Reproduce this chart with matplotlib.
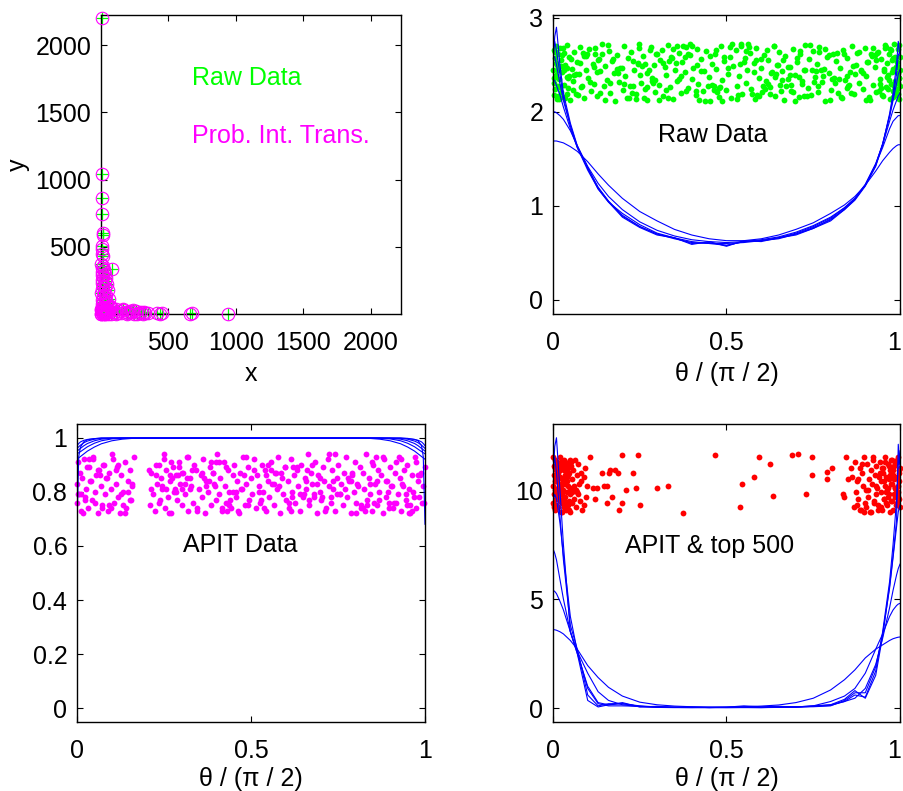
import matplotlib
matplotlib.use('Agg')
import matplotlib.pyplot as plt
import matplotlib.transforms as mtrans
import numpy as np

plt.rcParams['font.family'] = ['Liberation Sans', 'DejaVu Sans']
plt.rcParams['font.size'] = 18

# ---------------- data ----------------
# top-left: raw data (x, y)
tl_x = [6, 10, 8, 9, 12, 18, 4, 7, 10, 14, 85, 25,
        441, 455, 663, 678, 944, 418,
        3, 14, 6, 22, 9, 30, 4, 18, 38, 11, 26, 5, 45, 16, 33, 8, 52, 21, 2, 40, 13, 28, 60, 7, 35, 18, 48, 4, 25, 65,
        348, 330, 312, 295, 280, 262, 245, 230, 214, 198, 182, 166, 150, 136, 122, 108, 95, 84, 72, 110, 190, 270, 320, 240, 160,
        2, 8, 15, 22, 30, 40, 50, 5, 12, 20, 28, 36, 45, 55, 3, 10, 18, 33, 42, 58, 0, 1, 26]
tl_y = [2200, 1045, 865, 745, 605, 590, 505, 485, 450, 430, 335, 330,
        2, 5, 3, 6, 2, 4,
        375, 360, 345, 330, 315, 300, 290, 278, 265, 255, 243, 232, 220, 210, 198, 188, 176, 165, 155, 145, 135, 125, 115, 105, 95, 88, 80, 72, 65, 58,
        4, 10, 2, 14, 6, 20, 3, 12, 25, 7, 16, 30, 4, 22, 9, 36, 14, 45, 3, 2, 1, 1, 18, 28, 40,
        2, 5, 3, 8, 2, 6, 3, 15, 22, 18, 30, 14, 25, 12, 40, 48, 55, 45, 38, 50, 0, 30, 1]

# top-right: raw data scatter (theta/(pi/2), jittered level)
raw_x = [0.001,0.002,0.003,0.004,0.005,0.006,0.008,0.009,0.010,0.012,0.013,0.015,0.016,0.018,0.020,0.022,0.023,0.026,0.028,0.031,
         0.033,0.036,0.039,0.041,0.044,0.047,0.050,0.054,
         0.058,0.061,0.067,0.069,0.075,0.078,0.081,0.088,0.090,0.096,
         0.101,0.103,0.109,0.115,0.118,0.122,0.127,0.133,0.136,0.141,
         0.148,0.150,0.157,0.161,0.163,0.170,0.176,0.179,0.184,0.190,
         0.193,0.201,0.204,0.207,0.215,0.219,0.226,0.231,0.233,0.240,
         0.246,0.249,0.255,0.258,0.266,0.270,0.272,0.280,0.284,0.291,
         0.294,0.300,0.306,0.309,0.316,0.322,0.325,0.331,0.337,0.341,
         0.346,0.353,0.357,0.362,0.370,0.373,0.379,0.384,0.388,0.395,
         0.401,0.404,0.411,0.415,0.419,0.427,0.432,0.436,0.441,0.449,
         0.452,0.457,0.463,0.468,0.471,0.478,0.484,0.487,0.494,0.499,
         0.503,0.511,0.514,0.519,0.526,0.529,0.536,0.542,0.545,0.552,
         0.557,0.560,0.568,0.571,0.578,0.583,0.586,0.594,0.598,0.603,
         0.609,0.613,0.620,0.624,0.629,0.636,0.639,0.646,0.651,0.655,
         0.661,0.667,0.670,0.677,0.682,0.686,0.693,0.697,0.703,0.708,
         0.712,0.718,0.724,0.727,0.734,0.739,0.743,0.750,0.754,0.760,
         0.765,0.768,0.776,0.780,0.785,0.791,0.795,0.801,0.806,0.810,
         0.817,0.821,0.826,0.832,0.836,0.842,0.848,0.851,0.857,0.862,
         0.866,0.873,0.877,0.882,0.888,0.892,0.898,0.903,0.906,0.913,
         0.918,0.921,0.927,0.932,0.936,0.941,0.946,
         0.950,0.953,0.956,0.959,0.962,0.964,0.967,0.970,0.972,0.975,0.977,0.979,0.981,0.983,0.985,0.987,0.988,0.990,
         0.991,0.993,0.994,0.995,0.996,0.997,0.998,0.999,0.9995,1.0,
         0.412,0.087,0.733,0.256,0.968,0.541,0.019,0.664,0.305,0.887,
         0.142,0.779,0.473,0.028,0.621,0.354,0.912,0.198,0.556,0.991,
         0.067,0.703,0.437,0.825,0.281,0.604,0.012,0.948,0.389,0.746,
         0.164,0.517,0.859,0.231,0.682,0.035,0.973,0.458,0.117,0.794,
         0.327,0.639,0.006,0.901,0.266,0.578,0.985,0.402,0.719,0.053,
         0.846,0.183,0.529,0.957,0.368,0.691,0.094,0.812,0.247,0.594,
         0.024,0.934,0.446,0.758,0.131,0.487,0.996,0.313,0.657,0.078,
         0.871,0.214,0.566,0.942,0.381,0.727,0.041,0.839,0.293,0.612,
         0.158,0.503,0.979,0.342,0.671,0.009,0.894,0.227,0.549,0.962,
         0.421,0.785,0.106,0.648,0.272,0.916,0.031,0.589,0.356,0.805,
         0.173,0.464,0.988,0.239,0.712,0.061,0.853,0.396,0.631,0.015,
         0.927,0.284,0.538,0.764,0.122,0.478,0.953,0.335,0.696,0.047,
         0.818,0.206,0.573,0.981,0.427,0.741,0.083,0.865,0.261,0.617,
         0.003,0.939,0.452,0.773,0.149,0.511,0.994,0.318,0.643,0.072,
         0.882,0.221,0.584,0.965,0.374,0.708,0.039,0.831,0.298,0.659,
         0.136,0.492,0.976,0.347,0.686,0.018,0.907,0.252,0.561,0.945,
         0.415,0.752,0.099,0.626,0.277,0.921,0.057,0.598,0.363,0.799,
         0.188,0.469,0.983,0.244,0.724,0.027,0.848,0.384,0.636,0.011,
         0.931,0.289,0.533,0.768,0.127,0.482,0.959,0.331,0.677,0.044,
         0.992,0.997,0.986,0.978,0.969,0.961,0.008,0.014,0.022,0.033]
raw_y = [2.45,2.18,2.66,2.31,2.57,2.24,2.70,2.39,2.52,2.14,2.61,2.27,2.48,2.35,2.68,2.21,2.55,2.42,2.16,2.63,
         2.29,2.50,2.37,2.71,2.25,2.58,2.13,2.46,
         2.33,2.64,2.19,2.53,2.40,2.69,2.26,2.59,2.15,2.44,2.36,2.67,
         2.22,2.51,2.30,2.62,2.17,2.56,2.43,2.72,2.28,2.49,2.34,2.65,2.20,2.54,2.41,2.12,2.60,2.32,2.47,2.23,
         2.70,2.38,2.57,2.15,2.64,2.27,2.45,2.19,2.52,2.68,2.31,2.59,2.24,2.41,2.13,2.66,2.36,2.50,2.21,2.62,
         2.29,2.55,2.17,2.48,2.39,2.71,2.26,2.58,2.14,2.44,2.33,2.63,2.20,2.53,2.42,2.69,2.25,2.60,2.35,2.47,
         2.18,2.67,2.30,2.56,2.22,2.43,2.65,2.37,2.12,2.51,2.28,2.61,2.46,2.16,2.70,2.34,2.54,2.23,2.40,2.58,
         2.15,2.49,2.66,2.27,2.38,2.72,2.19,2.57,2.31,2.45,2.63,2.24,2.52,2.14,2.68,2.36,2.47,2.21,2.60,2.33,
         2.55,2.26,2.41,2.70,2.17,2.50,2.64,2.29,2.43,2.13,2.59,2.35,2.48,2.22,2.67,2.39,2.53,2.16,2.62,2.30,
         2.44,2.71,2.25,2.56,2.18,2.65,2.37,2.51,2.28,2.69,2.32,2.46,2.12,2.58,2.41,2.23,2.61,2.36,2.54,2.20,
         2.47,2.15,2.66,2.34,2.57,2.27,2.42,2.70,2.19,2.50,2.63,2.31,2.45,2.24,2.68,2.38,2.53,2.13,2.59,2.29,
         2.48,2.21,2.64,2.35,2.56,2.17,2.43,2.71,2.26,2.52,2.39,2.61,2.14,2.67,2.30,2.55,2.22,2.46,2.72,2.33,
         2.58,2.18,2.49,
         2.53,2.19,2.67,2.41,2.14,2.36,2.71,2.28,2.58,2.45,
         2.22,2.63,2.17,2.49,2.34,2.70,2.26,2.55,2.13,2.43,
         2.61,2.38,2.21,2.68,2.30,2.52,2.16,2.47,2.65,2.24,
         2.40,2.57,2.12,2.35,2.69,2.27,2.50,2.18,2.62,2.44,
         2.31,2.72,2.20,2.54,2.39,2.15,2.66,2.29,2.48,2.60,
         2.23,2.37,2.64,2.13,2.51,2.42,2.19,2.70,2.33,2.56,
         2.25,2.46,2.14,2.68,2.38,2.21,2.59,2.31,2.72,2.17,
         2.49,2.63,2.27,2.43,2.55,2.12,2.36,2.66,2.22,2.52,
         2.40,2.15,2.69,2.30,2.58,2.45,2.19,2.61,2.34,2.24,
         2.71,2.47,2.16,2.57,2.28,2.64,2.41,2.20,2.53,2.37,
         2.13,2.67,2.32,2.50,2.26,2.62,2.44,2.18,2.70,2.35,
         2.56,2.23,2.48,2.14,2.65,2.39,2.29,2.72,2.42,2.17,
         2.60,2.33,2.51,2.21,2.68,2.25,2.46,2.54,2.12,2.38,
         2.63,2.30,2.19,2.57,2.43,2.71,2.27,2.49,2.15,2.66,
         2.36,2.22,2.59,2.45,2.13,2.69,2.31,2.52,2.40,2.18,
         2.64,2.28,2.55,2.24,2.70,2.37,2.47,2.16,2.61,2.34,
         2.20,2.58,2.42,2.67,2.29,2.14,2.53,2.39,2.72,2.25,
         2.50,2.32,2.62,2.19,2.45,2.68,2.23,2.56,2.35,2.13,
         2.41,2.66,2.27,2.51,2.17,2.60,2.38,2.22,2.70,2.44,
         2.55,2.31,2.18,2.64,2.42,2.26,2.69,2.15,2.48,2.36]

# bottom-left: APIT scatter
apit_x = [0.000,0.001,0.003,0.006,0.009,0.012,0.015,0.019,0.022,0.026,
          0.031,0.034,0.038,0.043,0.047,0.051,0.055,0.060,0.063,0.068,
          0.072,0.076,0.081,0.084,0.089,0.093,0.098,0.102,0.105,0.111,
          0.114,0.119,0.124,0.127,0.132,0.137,0.140,0.146,0.151,0.155,
          0.159,0.164,0.210,0.214,0.218,0.223,0.228,0.231,0.236,0.241,
          0.244,0.249,0.254,0.257,0.262,0.267,0.270,0.275,0.280,0.284,
          0.288,0.293,0.297,0.302,0.306,0.310,0.315,0.319,0.324,0.328,
          0.333,0.337,0.341,0.346,0.350,0.355,0.359,0.363,0.368,0.372,
          0.377,0.381,0.385,0.390,0.394,0.399,0.403,0.407,0.412,0.416,
          0.421,0.425,0.429,0.434,0.438,0.443,0.447,0.451,0.456,0.460,
          0.465,0.469,0.473,0.478,0.482,0.487,0.491,0.495,0.500,0.504,
          0.509,0.513,0.517,0.522,0.526,0.531,0.535,0.539,0.544,0.548,
          0.553,0.557,0.561,0.566,0.570,0.575,0.579,0.583,0.588,0.592,
          0.597,0.601,0.605,0.610,0.614,0.619,0.623,0.627,0.632,0.636,
          0.641,0.645,0.649,0.654,0.658,0.663,0.667,0.671,0.676,0.680,
          0.685,0.689,0.693,0.698,0.702,0.707,0.711,0.715,0.720,0.724,
          0.729,0.733,0.737,0.742,0.746,0.751,0.755,0.759,0.764,0.768,
          0.773,0.777,0.781,0.786,0.790,0.795,0.799,0.803,0.808,0.812,
          0.817,0.821,0.825,0.830,0.834,0.839,0.843,0.847,0.852,0.856,
          0.861,0.865,0.869,0.874,0.878,0.883,0.887,0.891,0.896,0.900,
          0.905,0.909,0.913,0.918,0.922,0.927,0.931,0.935,0.940,0.944,
          0.949,0.953,0.957,0.962,0.966,0.971,0.975,0.979,0.984,0.988,
          0.993,0.997,1.000,
          0.508,0.093,0.771,0.318,0.954,0.227,0.642,0.041,0.869,0.386,
          0.714,0.158,0.597,0.912,0.273,0.456,0.035,0.823,0.359,0.681,
          0.117,0.938,0.492,0.249,0.756,0.066,0.614,0.887,0.331,0.529,
          0.283,0.975,0.418,0.697,0.012,0.853,0.292,0.566,0.139,0.791,
          0.447,0.926,0.238,0.659,0.078,0.834,0.371,0.543,0.964,0.206,
          0.731,0.104,0.472,0.897,0.315,0.622,0.053,0.806,0.398,0.944,
          0.264,0.587,0.146,0.742,0.023,0.863,0.437,0.675,0.396,0.986,
          0.344,0.558,0.127,0.779,0.486,0.917,0.257,0.631,0.071,0.842,
          0.409,0.703,0.268,0.958,0.302,0.524,0.045,0.815,0.379,0.668,
          0.111,0.902,0.463,0.235,0.748,0.087,0.609,0.878,0.326,0.537,
          0.291,0.969,0.428,0.689,0.017,0.848,0.284,0.572,0.133,0.786,
          0.441,0.931,0.244,0.653,0.061,0.829,0.366,0.549,0.991,0.214,
          0.725,0.098,0.479,0.893,0.309,0.617,0.029,0.801,0.392,0.948,
          0.269,0.581,0.152,0.737,0.004,0.858,0.432,0.662,0.301,0.981]
apit_y = [0.83,0.76,0.91,0.79,0.87,0.73,0.85,0.92,0.78,0.81,
          0.74,0.89,0.84,0.77,0.93,0.80,0.86,0.72,0.88,0.82,
          0.75,0.90,0.79,0.85,0.73,0.87,0.81,0.94,0.76,0.83,
          0.89,0.78,0.72,0.86,0.80,0.91,0.74,0.84,0.88,0.77,
          0.82,0.93,0.75,0.87,0.79,0.73,0.90,0.83,0.76,0.85,
          0.81,0.92,0.74,0.88,0.78,0.84,0.72,0.89,0.80,0.86,
          0.77,0.91,0.83,0.75,0.87,0.79,0.93,0.73,0.85,0.82,
          0.76,0.90,0.88,0.74,0.81,0.86,0.78,0.92,0.72,0.84,
          0.80,0.89,0.75,0.87,0.83,0.77,0.94,0.79,0.85,0.73,
          0.91,0.82,0.76,0.88,0.80,0.74,0.86,0.90,0.78,0.84,
          0.72,0.87,0.81,0.93,0.75,0.83,0.89,0.77,0.85,0.79,
          0.92,0.74,0.86,0.82,0.76,0.90,0.80,0.88,0.73,0.84,
          0.78,0.91,0.83,0.75,0.87,0.81,0.93,0.72,0.85,0.79,
          0.89,0.77,0.84,0.74,0.92,0.80,0.86,0.76,0.88,0.82,
          0.73,0.90,0.78,0.85,0.81,0.94,0.75,0.87,0.83,0.79,
          0.91,0.72,0.86,0.80,0.77,0.89,0.84,0.74,0.92,0.82,
          0.76,0.88,0.81,0.73,0.85,0.90,0.79,0.83,0.75,0.87,
          0.93,0.78,0.84,0.72,0.86,0.80,0.91,0.76,0.82,0.89,
          0.74,0.87,0.81,0.94,0.77,0.85,0.79,0.73,0.90,0.83,
          0.75,0.88,0.80,0.86,0.72,0.92,0.78,0.84,0.76,0.89,
          0.82,0.74,0.87,0.91,0.79,0.85,0.73,0.83,0.88,0.77,
          0.90,0.81,0.75,0.86,0.80,0.93,0.74,0.84,0.78,0.87,
          0.82,0.76,0.89,
          0.88,0.75,0.81,0.93,0.72,0.86,0.79,0.84,0.77,0.91,
          0.73,0.83,0.89,0.76,0.85,0.80,0.92,0.74,0.87,0.78,
          0.90,0.82,0.75,0.94,0.79,0.86,0.73,0.84,0.88,0.77,
          0.81,0.91,0.74,0.85,0.79,0.76,0.89,0.83,0.72,0.87,
          0.80,0.93,0.77,0.84,0.90,0.75,0.82,0.86,0.73,0.88,
          0.78,0.92,0.81,0.74,0.85,0.89,0.76,0.83,0.91,0.79,
          0.72,0.87,0.80,0.94,0.77,0.84,0.75,0.90,0.82,0.86,
          0.73,0.88,0.79,0.85,0.93,0.76,0.81,0.89,0.74,0.83,
          0.91,0.78,0.86,0.72,0.87,0.80,0.92,0.75,0.84,0.77,
          0.88,0.82,0.73,0.90,0.79,0.85,0.76,0.93,0.81,0.74,
          0.86,0.78,0.89,0.83,0.72,0.91,0.80,0.87,0.75,0.84,
          0.77,0.92,0.82,0.79,0.88,0.73,0.85,0.90,0.76,0.81,
          0.94,0.74,0.86,0.80,0.83,0.78,0.89,0.72,0.87,0.75,
          0.91,0.82,0.77,0.84,0.79,0.93,0.73,0.88,0.81,0.86]

# bottom-right: APIT & top 500 scatter
top_x = [0.000,0.001,0.002,0.003,0.004,0.005,0.006,0.007,0.008,0.009,
         0.010,0.011,0.012,0.013,0.014,0.015,0.016,0.017,0.018,0.019,
         0.020,0.021,0.022,0.023,0.024,0.025,0.026,0.027,0.028,0.029,
         0.030,0.031,0.032,0.033,0.034,0.035,0.036,0.037,0.038,0.039,
         0.040,0.041,0.042,0.043,0.044,0.045,0.046,0.047,0.048,0.049,
         0.050,0.052,0.054,0.056,0.058,0.060,0.062,0.064,0.066,0.068,
         0.070,0.073,0.076,0.079,0.082,0.085,0.088,0.091,0.094,0.097,
         0.001,0.003,0.005,0.008,0.011,0.014,0.017,0.021,0.025,0.029,
         0.033,0.038,0.043,0.049,0.055,0.061,0.002,0.006,0.010,0.015,
         0.020,0.026,0.032,0.039,0.046,0.053,0.065,0.072,0.080,0.090,
         0.115,0.140,0.160,0.155,0.170,0.180,0.190,0.210,0.230,0.245,
         0.250,0.300,0.330,0.375,0.467,0.540,0.545,0.580,0.595,0.625,
         0.635,0.690,0.705,0.730,0.745,0.745,0.790,0.805,0.790,0.835,
         0.840,0.845,0.850,0.860,0.108,0.120,0.127,0.147,0.157,0.200,
         0.200,0.240,0.165,0.186,
         0.862,0.866,0.870,0.873,0.877,0.880,0.884,0.887,0.890,0.893,
         0.896,0.899,0.902,0.905,0.908,0.911,0.914,0.917,0.919,0.922,
         0.925,0.927,0.930,0.932,0.935,0.937,0.940,0.942,0.944,0.946,
         0.948,0.950,0.952,0.954,0.956,0.958,0.960,0.962,0.964,0.966,
         0.968,0.970,0.972,0.974,0.976,0.978,0.980,0.982,0.984,0.986,
         0.988,0.990,0.992,0.994,0.996,0.998,1.000,0.999,0.997,0.995,
         0.993,0.991,0.989,0.987,0.985,0.983,0.981,0.979,0.977,0.975,
         0.973,0.971,0.969,0.967,0.965,0.963,0.961,0.959,0.957,0.955,
         0.953,0.949,0.945,0.941,0.936,0.931,0.926,0.921,0.915,0.909,
         0.903,0.897,0.891,0.885,0.879,0.875,0.998,0.994,0.990,0.986]
top_y = [10.2,9.4,11.1,9.8,10.7,9.1,11.4,10.0,9.6,10.9,
         9.3,11.2,10.4,9.7,10.8,9.2,11.0,10.3,9.9,11.5,
         9.5,10.6,9.0,11.3,10.1,9.8,10.5,9.4,11.1,10.0,
         9.6,10.9,9.2,11.4,10.3,9.7,10.7,9.1,11.2,10.4,
         9.9,10.6,9.3,11.0,10.2,9.5,11.3,10.8,9.0,10.1,
         9.8,11.1,10.5,9.4,10.9,9.6,11.4,10.0,9.2,10.7,
         9.9,11.2,10.3,9.5,10.8,9.1,10.6,11.0,9.7,10.2,
         11.5,9.3,10.4,9.8,11.3,10.1,9.6,10.9,9.0,11.1,
         10.5,9.4,10.7,11.4,9.9,10.2,9.2,11.0,10.6,9.7,
         11.2,10.3,9.5,10.8,9.1,11.3,10.0,9.8,10.4,9.3,
         10.1,10.8,10.8,10.2,9.7,10.9,9.1,10.0,10.8,11.6,
         9.3,10.1,10.2,8.95,11.6,9.2,10.3,10.6,11.5,11.2,
         9.75,11.6,11.65,9.8,11.5,10.7,10.85,11.0,10.5,9.8,
         9.7,11.5,10.5,11.0,11.5,9.6,10.1,10.2,9.4,11.6,
         9.4,10.1,10.9,10.8,
         10.6,9.2,11.3,9.9,10.4,9.6,11.0,9.1,10.8,10.2,
         11.5,9.4,10.0,11.2,9.7,10.5,9.0,10.9,10.3,11.4,
         9.5,10.7,9.8,11.1,10.1,9.3,10.6,11.3,9.9,10.4,
         9.1,11.0,10.8,9.6,10.2,11.5,9.4,10.0,11.2,9.7,
         10.5,9.0,10.9,10.3,11.4,9.5,10.7,9.8,11.1,10.1,
         9.3,10.6,11.3,9.9,10.4,9.6,11.0,9.2,10.8,10.2,
         11.5,9.4,10.0,11.2,9.7,10.5,9.1,10.9,10.3,11.4,
         9.5,10.7,9.8,11.1,10.1,9.3,10.6,9.9,11.3,10.4,
         9.6,11.0,9.2,10.8,9.1,10.2,9.4,11.5,9.0,10.0,
         9.2,9.0,11.2,9.1,10.5,9.3,10.9,9.7,11.4,10.1]

# density-curve abscissae (theta / (pi/2))
theta = [0, .005, .01, .02, .03, .05, .07, .1, .13, .16, .2, .25, .3, .35, .4, .45, .5,
         .55, .6, .65, .7, .75, .8, .84, .87, .9, .93, .95, .97, .98, .99, .995, 1]

raw_curves = [
    [1.69,1.69,1.69,1.68,1.67,1.63,1.58,1.47,1.34,1.22,1.08,0.94,0.84,0.75,0.69,0.65,0.63,0.63,0.65,0.69,0.75,0.82,0.92,1.01,1.10,1.22,1.37,1.48,1.57,1.61,1.64,1.65,1.65],
    [2.0,2.0,1.99,1.96,1.92,1.80,1.64,1.42,1.24,1.10,0.96,0.83,0.74,0.68,0.64,0.62,0.61,0.62,0.64,0.67,0.72,0.79,0.88,0.98,1.08,1.22,1.44,1.62,1.82,1.90,1.94,1.96,1.96],
    [2.35,2.33,2.28,2.18,2.05,1.82,1.62,1.38,1.18,1.04,0.92,0.80,0.71,0.66,0.62,0.60,0.60,0.61,0.63,0.66,0.71,0.78,0.87,0.98,1.08,1.23,1.45,1.65,1.90,2.02,2.12,2.17,2.2],
    [2.6,2.58,2.5,2.3,2.12,1.85,1.62,1.40,1.20,1.05,0.90,0.78,0.70,0.66,0.60,0.61,0.58,0.62,0.63,0.65,0.70,0.76,0.86,0.96,1.07,1.22,1.44,1.66,1.95,2.12,2.30,2.40,2.45],
    [2.5,2.8,2.9,2.5,2.2,1.88,1.64,1.40,1.18,1.04,0.88,0.77,0.69,0.66,0.59,0.62,0.57,0.63,0.62,0.66,0.69,0.76,0.84,0.96,1.06,1.21,1.42,1.65,1.98,2.2,2.5,2.75,2.6],
    [2.65,2.75,2.65,2.4,2.15,1.86,1.63,1.41,1.19,1.05,0.89,0.78,0.70,0.65,0.61,0.60,0.58,0.62,0.63,0.66,0.70,0.77,0.85,0.97,1.07,1.22,1.43,1.66,1.96,2.15,2.4,2.6,2.65],
]

apit_curves = [
    [0.68,0.93,0.965,0.985,0.992,0.996,0.998] + [0.998]*20 + [0.997,0.993,0.988,0.97,0.93,0.68],
    [0.97,0.978,0.984,0.99,0.993,0.996,0.998] + [0.998]*20 + [0.996,0.993,0.99,0.984,0.978,0.97],
    [0.96,0.966,0.972,0.981,0.987,0.994,0.997] + [0.998]*19 + [0.997,0.994,0.987,0.981,0.972,0.966,0.96],
    [0.95,0.955,0.96,0.97,0.978,0.988,0.994,0.997] + [0.998]*17 + [0.997,0.994,0.988,0.978,0.97,0.96,0.955,0.95],
    [0.94,0.944,0.948,0.957,0.966,0.979,0.988,0.995,0.997] + [0.998]*15 + [0.997,0.995,0.988,0.979,0.966,0.957,0.948,0.944,0.94],
    [0.92,0.925,0.93,0.94,0.95,0.965,0.977,0.988,0.994,0.997] + [0.998]*13 + [0.997,0.994,0.988,0.977,0.965,0.95,0.94,0.93,0.925,0.92],
]

top_curves = [
    [3.6,3.59,3.57,3.5,3.4,3.1,2.7,1.95,1.4,0.95,0.55,0.27,0.15,0.09,0.06,0.05,0.05,0.06,0.09,0.14,0.25,0.45,0.83,1.3,1.75,2.3,2.7,2.9,3.1,3.18,3.23,3.25,3.26],
    [5.4,5.35,5.25,4.9,4.5,3.5,2.6,1.6,0.75,0.35,0.15,0.06,0.03,0.02,0.02,0.02,0.02,0.02,0.02,0.03,0.05,0.1,0.3,0.55,0.9,1.6,2.7,3.4,4.2,4.5,4.7,4.77,4.8],
    [7.3,7.1,6.8,5.9,5.0,3.5,2.5,1.0,0.25,0.15,0.2,0.08,0.04,0.03,0.02,0.03,0.02,0.03,0.02,0.04,0.05,0.08,0.15,0.3,0.45,0.9,2.0,3.2,4.6,5.4,6.1,6.4,6.6],
    [10.5,12.0,12.4,10.0,7.5,3.5,2.5,0.35,0.05,0.15,0.25,0.05,0.08,0.03,0.05,0.02,0.04,0.1,0.06,0.08,0.05,0.1,0.15,0.4,0.8,0.45,1.5,3.3,5.6,7.0,8.6,12.1,11.0],
    [11.0,11.5,10.8,8.8,6.8,3.8,2.7,0.6,0.1,0.2,0.2,0.1,0.05,0.04,0.03,0.03,0.03,0.05,0.04,0.05,0.04,0.08,0.12,0.3,0.6,0.5,1.7,3.5,5.8,7.5,9.5,11.2,11.8],
    [9.5,9.8,9.6,8.5,7.0,4.2,2.6,0.9,0.2,0.1,0.1,0.08,0.05,0.04,0.03,0.02,0.03,0.04,0.03,0.04,0.05,0.06,0.1,0.35,0.7,0.7,1.9,3.4,5.5,6.9,8.3,9.0,9.3],
]

# ---------------- plotting ----------------
GREEN = '#00ff00'
MAGENTA = '#ff00ff'
RED = '#ff0000'
BLUE = '#0000ff'
XLAB = '\u03b8 / (\u03c0 / 2)'

fig = plt.figure(figsize=(9.04, 7.91), dpi=100)
W, H = 904.0, 791.0

def make_ax(l, t, r, b):
    return fig.add_axes([l / W, 1 - b / H, (r - l) / W, (b - t) / H])

def style(ax):
    ax.tick_params(direction='in', length=4, width=0.8, top=True, right=True, labelsize=18)
    ax.tick_params(axis='x', pad=12.5)
    ax.tick_params(axis='y', pad=7)
    for s in ax.spines.values():
        s.set_linewidth(1.0)

def pts(xs, ys):
    n = min(len(xs), len(ys))
    return xs[:n], ys[:n]

# top-left
ax1 = make_ax(101, 15, 401, 314)
ax1.plot(tl_x, tl_y, '+', color=GREEN, ms=9, mew=0.9, clip_on=False, zorder=2)
ax1.plot(tl_x, tl_y, 'o', mfc='none', mec=MAGENTA, ms=9, mew=0.8, clip_on=False, zorder=3)
ax1.set_xlim(0, 2225)
ax1.set_ylim(0, 2225)
ax1.set_xticks([500, 1000, 1500, 2000])
ax1.set_yticks([500, 1000, 1500, 2000])
ax1.text(678, 1701, 'Raw Data', color=GREEN, fontsize=18, va='baseline', ha='left')
ax1.text(678, 1269, 'Prob. Int. Trans.', color=MAGENTA, fontsize=18, va='baseline', ha='left')
ax1.set_xlabel('x', fontsize=18, labelpad=5)
ax1.set_ylabel('y', fontsize=18, labelpad=4)
style(ax1)

# top-right
ax2 = make_ax(553, 15, 900, 314)
gx, gy = pts(raw_x, raw_y)
ax2.plot(gx, gy, 'o', color=GREEN, ms=4.2, mec='none', clip_on=False)
for c in raw_curves:
    ax2.plot(theta, c, color=BLUE, lw=0.8)
ax2.set_xlim(0, 1)
ax2.set_ylim(-0.15, 3.03)
ax2.set_xticks([0, 0.5, 1])
ax2.set_xticklabels(['0', '0.5', '1'])
ax2.set_yticks([0, 1, 2, 3])
ax2.text(0.461, 1.68, 'Raw Data', fontsize=18, ha='center', va='baseline')
ax2.set_xlabel(XLAB, fontsize=18, labelpad=5)
style(ax2)

# bottom-left
ax3 = make_ax(77, 424, 425, 722)
mx, my = pts(apit_x, apit_y)
ax3.plot(mx, my, 'o', color=MAGENTA, ms=4.2, mec='none', clip_on=False)
for c in apit_curves:
    ax3.plot(theta, c, color=BLUE, lw=0.8)
ax3.set_xlim(0, 1)
ax3.set_ylim(-0.05, 1.05)
ax3.set_xticks([0, 0.5, 1])
ax3.set_xticklabels(['0', '0.5', '1'])
ax3.set_yticks([0, 0.2, 0.4, 0.6, 0.8, 1])
ax3.set_yticklabels(['0', '0.2', '0.4', '0.6', '0.8', '1'])
ax3.text(0.468, 0.579, 'APIT Data', fontsize=18, ha='center', va='baseline')
ax3.set_xlabel(XLAB, fontsize=18, labelpad=2.5)
style(ax3)

# bottom-right
ax4 = make_ax(553, 424, 900, 722)
rx, ry = pts(top_x, top_y)
ax4.plot(rx, ry, 'o', color=RED, ms=4.2, mec='none', clip_on=False)
for c in top_curves:
    ax4.plot(theta, c, color=BLUE, lw=0.8)
ax4.set_xlim(0, 1)
ax4.set_ylim(-0.64, 13.03)
ax4.set_xticks([0, 0.5, 1])
ax4.set_xticklabels(['0', '0.5', '1'])
ax4.set_yticks([0, 5, 10])
ax4.text(0.45, 7.12, 'APIT & top 500', fontsize=18, ha='center', va='baseline')
ax4.set_xlabel(XLAB, fontsize=18, labelpad=2.5)
style(ax4)

# nudge the right-most "1" labels so they stay inside the figure
fig.canvas.draw()
for ax in (ax2, ax4):
    lab = ax.xaxis.get_major_ticks()[-1].label1
    lab.set_transform(lab.get_transform() + mtrans.ScaledTranslation(-4 / 72, 0, fig.dpi_scale_trans))

fig.savefig('out.png', dpi=100)
